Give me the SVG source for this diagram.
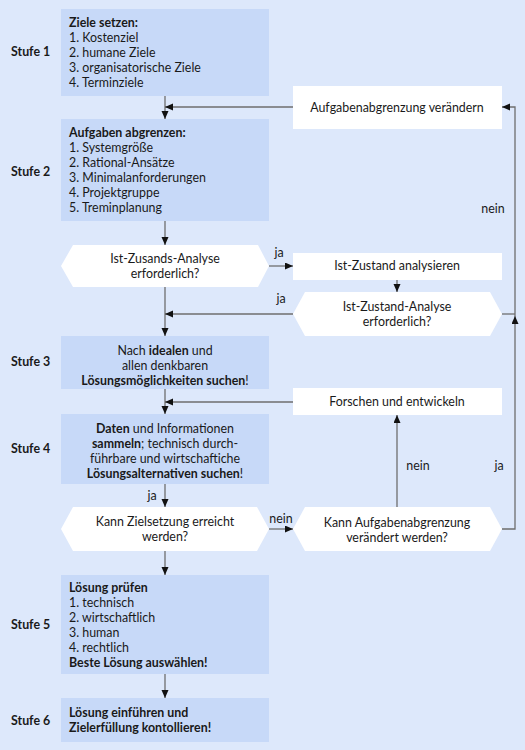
<svg xmlns="http://www.w3.org/2000/svg" width="525" height="750" viewBox="0 0 525 750">
<style>
text{font-family:Lato,"Noto Sans","DejaVu Sans",sans-serif;font-size:12.4px;fill:#1a1a1a}
.b{font-weight:bold}
.c{text-anchor:middle}
.box{fill:#c7d9f8}
.w{fill:#ffffff}
.ln{fill:none;stroke:#6e6e6e;stroke-width:1.3}
</style>
<defs>
<marker id="ah" markerUnits="userSpaceOnUse" markerWidth="8" markerHeight="8" refX="8" refY="3.5" orient="auto">
<path d="M0,0 L8,3.5 L0,7 z" fill="#111"/>
</marker>
</defs>
<rect width="525" height="750" fill="#dde8fb"/>

<g id="labels">
<text class="b" x="11" y="56">Stufe 1</text>
<text class="b" x="11" y="176">Stufe 2</text>
<text class="b" x="11" y="366">Stufe 3</text>
<text class="b" x="11" y="453">Stufe 4</text>
<text class="b" x="11" y="629">Stufe 5</text>
<text class="b" x="11" y="725">Stufe 6</text>
</g>

<g id="n1">
<rect class="box" x="61" y="9" width="208" height="87"/>
<text class="b" x="69" y="27">Ziele setzen:</text>
<text x="69" y="42">1. Kostenziel</text>
<text x="69" y="57">2. humane Ziele</text>
<text x="69" y="72">3. organisatorische Ziele</text>
<text x="69" y="87">4. Terminziele</text>
</g>

<g id="n2">
<rect class="box" x="61" y="119" width="208" height="102"/>
<text class="b" x="69" y="137">Aufgaben abgrenzen:</text>
<text x="69" y="152">1. Systemgröße</text>
<text x="69" y="167">2. Rational-Ansätze</text>
<text x="69" y="182">3. Minimalanforderungen</text>
<text x="69" y="197">4. Projektgruppe</text>
<text x="69" y="212">5. Treminplanung</text>
</g>

<g id="n_aendern">
<rect class="w" x="293" y="86" width="209" height="43"/>
<text class="c" x="397" y="112">Aufgabenabgrenzung verändern</text>
</g>

<g id="d1">
<polygon class="w" points="61,266 73,245 258,245 269,266 258,287 73,287"/>
<text class="c" x="165" y="263">Ist-Zusands-Analyse</text>
<text class="c" x="165" y="278">erforderlich?</text>
</g>

<g id="n_ist">
<rect class="w" x="293" y="253" width="209" height="27"/>
<text class="c" x="397" y="270">Ist-Zustand analysieren</text>
</g>

<g id="d2">
<polygon class="w" points="293,314 305,292 490,292 502,314 490,336 305,336"/>
<text class="c" x="397" y="311">Ist-Zustand-Analyse</text>
<text class="c" x="397" y="326">erforderlich?</text>
</g>

<g id="n3">
<rect class="box" x="61" y="336" width="208" height="53"/>
<text class="c" x="165" y="355">Nach <tspan class="b">idealen</tspan> und</text>
<text class="c" x="165" y="370">allen denkbaren</text>
<text class="c" x="165" y="385"><tspan class="b">Lösungsmöglichkeiten suchen</tspan>!</text>
</g>

<g id="n_forschen">
<rect class="w" x="293" y="388" width="209" height="27"/>
<text class="c" x="397" y="406">Forschen und entwickeln</text>
</g>

<g id="n4">
<rect class="box" x="61" y="414" width="208" height="70"/>
<text class="c" x="165" y="433"><tspan class="b">Daten</tspan> und Informationen</text>
<text class="c" x="165" y="448"><tspan class="b">sammeln</tspan>; technisch durch-</text>
<text class="c" x="165" y="463">führbare und wirtschaftiche</text>
<text class="c" x="165" y="478"><tspan class="b">Lösungsalternativen suchen</tspan>!</text>
</g>

<g id="d3">
<polygon class="w" points="61,529 73,507 257,507 269,529 257,551 73,551"/>
<text class="c" x="165" y="526">Kann Zielsetzung erreicht</text>
<text class="c" x="165" y="541">werden?</text>
</g>

<g id="d4">
<polygon class="w" points="293,529 305,507 490,507 502,529 490,551 305,551"/>
<text class="c" x="397" y="527">Kann Aufgabenabgrenzung</text>
<text class="c" x="397" y="542">verändert werden?</text>
</g>

<g id="n5">
<rect class="box" x="61" y="575" width="208" height="99"/>
<text class="b" x="69" y="592">Lösung prüfen</text>
<text x="69" y="607">1. technisch</text>
<text x="69" y="622">2. wirtschaftlich</text>
<text x="69" y="637">3. human</text>
<text x="69" y="652">4. rechtlich</text>
<text class="b" x="69" y="667">Beste Lösung auswählen!</text>
</g>

<g id="n6">
<rect class="box" x="61" y="698" width="208" height="44"/>
<text class="b" x="69" y="717">Lösung einführen und</text>
<text class="b" x="69" y="732">Zielerfüllung kontollieren!</text>
</g>

<g id="connectors">
<path class="ln" d="M165,96 L165,119" marker-end="url(#ah)"/>
<path class="ln" d="M293,107 L165,107" marker-end="url(#ah)"/>
<path class="ln" d="M165,221 L165,245" marker-end="url(#ah)"/>
<path class="ln" d="M269,266 L293,266" marker-end="url(#ah)"/>
<path class="ln" d="M397,280 L397,292" marker-end="url(#ah)"/>
<path class="ln" d="M165,287 L165,336" marker-end="url(#ah)"/>
<path class="ln" d="M293,314 L165,314" marker-end="url(#ah)"/>
<path class="ln" d="M502,314 L515,314"/>
<path class="ln" d="M502,529 L515,529 L515,316" marker-end="url(#ah)"/>
<path class="ln" d="M515,316 L515,107 L502,107" marker-end="url(#ah)"/>
<path class="ln" d="M165,389 L165,414" marker-end="url(#ah)"/>
<path class="ln" d="M293,402 L165,402" marker-end="url(#ah)"/>
<path class="ln" d="M165,484 L165,507" marker-end="url(#ah)"/>
<path class="ln" d="M269,529 L293,529" marker-end="url(#ah)"/>
<path class="ln" d="M397,507 L397,415" marker-end="url(#ah)"/>
<path class="ln" d="M165,551 L165,575" marker-end="url(#ah)"/>
<path class="ln" d="M165,674 L165,698" marker-end="url(#ah)"/>
<text class="c" x="279" y="257">ja</text>
<text class="c" x="281" y="303">ja</text>
<text class="c" x="493" y="213">nein</text>
<text class="c" x="152" y="500">ja</text>
<text class="c" x="281" y="523">nein</text>
<text class="c" x="418" y="470">nein</text>
<text class="c" x="499" y="470">ja</text>
</g>
</svg>
